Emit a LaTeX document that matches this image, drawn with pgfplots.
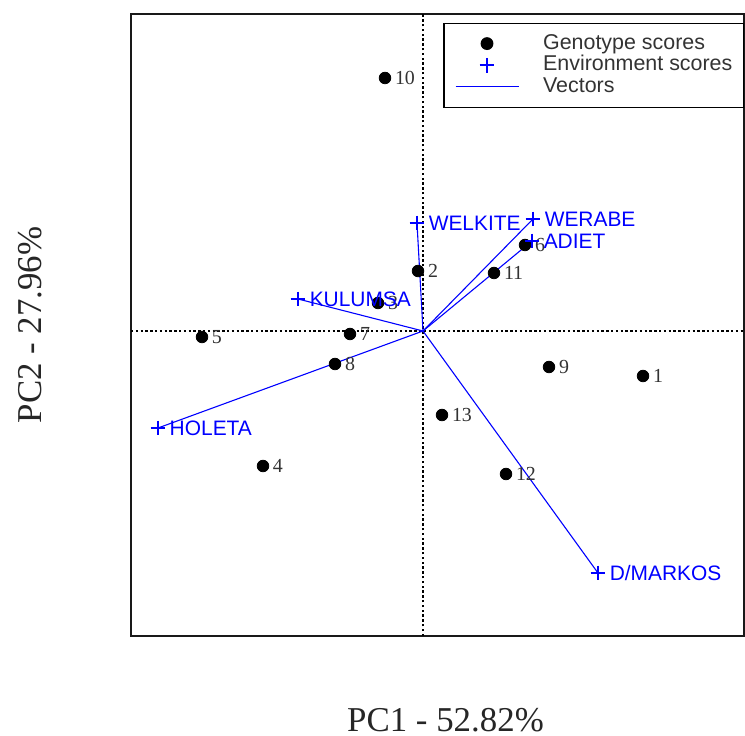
\documentclass[border=0pt]{standalone}
\usepackage{fontspec}
\setmainfont{Liberation Serif}
\newfontfamily\arial{Liberation Sans}
\usepackage{pgfplots}
\pgfplotsset{compat=1.18}
\pgfplotsset{
  marklegend/.style={legend image code/.code={\draw[mark repeat=2,mark phase=2,##1] plot coordinates {(0bp,0bp) (15.75bp,0bp) (31.5bp,0bp)};}},
  linelegend/.style={legend image code/.code={\draw[blue, line width=0.6bp] (0bp,0bp) -- (31.5bp,0bp);}},
}
\begin{document}
\begin{tikzpicture}
\useasboundingbox (-65.5bp,-50bp) rectangle (307bp,318bp);
\begin{axis}[
  at={(0,0)}, anchor=south west,
  scale only axis, width=306.5bp, height=311bp,
  xmin=-2.92, xmax=3.21, ymin=-3.05, ymax=3.17,
  ticks=none,
  axis line style={line width=1.1bp, black!90},
  clip=false,
  xlabel={PC1 - 52.82\%}, ylabel={PC2 - 27.96\%},
  label style={font=\fontsize{17.5}{20}\selectfont, text=black!85},
  xlabel style={at={([yshift=-42bp,xshift=4bp]axis description cs:0.5,0)}, anchor=center},
  ylabel style={at={([xshift=-50.5bp]axis description cs:0,0.5)}, anchor=center},
  legend cell align=left,
  legend style={at={(1,1)}, anchor=north east, yshift=-4.3bp,
    draw=black, line width=0.6bp, fill=white,
    font=\arial\fontsize{10.75}{12}\selectfont, text=black!80,
    inner xsep=5.5bp, inner ysep=5.2bp, row sep=0.8bp,
    nodes={inner xsep=0pt, inner ysep=0pt, text height=7.75bp, text depth=2.25bp},
    /tikz/every odd column/.append style={column sep=12bp}},
]
% dotted reference lines through the origin
\addplot[black, line width=0.6bp, dash pattern=on 1.2bp off 1.2bp, forget plot] coordinates {(0,-3.05) (0,3.17)};
\addplot[black, line width=0.6bp, dash pattern=on 1.2bp off 1.2bp, forget plot] coordinates {(-2.92,0) (3.21,0)};
% vectors
\addplot[blue, line width=0.55bp, forget plot] coordinates {(0,0) (-0.06,1.08)};
\addplot[blue, line width=0.55bp, forget plot] coordinates {(0,0) (1.10,1.12)};
\addplot[blue, line width=0.55bp, forget plot] coordinates {(0,0) (1.09,0.90)};
\addplot[blue, line width=0.55bp, forget plot] coordinates {(0,0) (-1.25,0.32)};
\addplot[blue, line width=0.55bp, forget plot] coordinates {(0,0) (-2.65,-0.97)};
\addplot[blue, line width=0.55bp, forget plot] coordinates {(0,0) (1.75,-2.42)};
% genotype scores
\addplot[only marks, mark=*, mark size=2.9bp, black,
  point meta=explicit symbolic, nodes near coords,
  every node near coord/.append style={anchor=west, inner sep=0pt, xshift=4.8bp,
    font=\fontsize{10}{12}\selectfont, text=black!80},
  marklegend]
  table[meta=label] {
x y label
2.20 -0.45 1
-0.05 0.60 2
-0.45 0.28 3
-1.60 -1.35 4
-2.21 -0.06 5
1.02 0.86 6
-0.73 -0.03 7
-0.88 -0.33 8
1.26 -0.36 9
-0.38 2.53 10
0.71 0.58 11
0.83 -1.43 12
0.19 -0.84 13
};
\addlegendentry{Genotype scores}
% environment scores
\addplot[only marks, mark=+, mark size=3.7bp, blue, mark options={line width=0.75bp},
  point meta=explicit symbolic, nodes near coords,
  every node near coord/.append style={anchor=west, inner sep=0pt, xshift=5.5bp,
    font=\arial\fontsize{10.5}{12}\selectfont, text=blue},
  marklegend]
  table[meta=label] {
x y label
-0.06 1.08 WELKITE
1.10 1.12 WERABE
1.09 0.90 ADIET
-1.25 0.32 KULUMSA
-2.65 -0.97 HOLETA
1.75 -2.42 D/MARKOS
};
\addlegendentry{Environment scores}
\addlegendimage{blue, line width=0.6bp, linelegend}
\addlegendentry{Vectors}
\end{axis}
\end{tikzpicture}
\end{document}
